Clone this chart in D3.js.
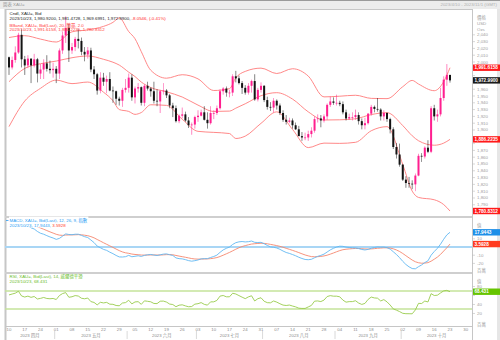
<!DOCTYPE html>
<html><head><meta charset="utf-8">
<script src="https://cdn.jsdelivr.net/npm/d3@7"></script>
<style>
html,body{margin:0;padding:0;background:#fff;}
svg{display:block;font-family:"Liberation Sans","Noto Sans CJK TC",Arial,sans-serif;}
</style></head><body>
<svg id="c" width="500" height="340"></svg>
<script>
// ---------- DATA (daily XAU= candles, 2023/04/10 .. 2023/10/23) ----------
const opens = [2007,1992,2003,2014,2040, 2004,1995,2005,1995,2004, 1983,1989,1998,1990,1988, 1990,1983,2017,2039,2050, 2017,2022,2034,2031,2015, 2011,2017,1989,1982,1958, 1977,1971,1975,1958,1957, 1946,1943,1959,1962,1977, 1948,1961,1963,1940,1965, 1961,1957,1943,1942,1957, 1958,1951,1936,1932,1913, 1921,1923,1914,1907,1908, 1919,1921,1926,1915,1910, 1925,1925,1932,1957,1961, 1955,1955,1979,1976,1969, 1962,1955,1965,1972,1945, 1959,1965,1944,1934,1933, 1943,1936,1925,1915,1912, 1914,1907,1901,1891,1889, 1889,1894,1899,1916,1917, 1914,1920,1937,1942,1940, 1940,1938,1926,1917,1919, 1919,1922,1913,1907,1910, 1924,1934,1931,1930,1920, 1925,1916,1901,1875,1864, 1849,1827,1822,1821,1820, 1833,1862,1861,1874,1868, 1932,1920,1923,1947,1974, 1980.92];
const highs = [2008,2008,2023,2043,2048, 2009,2010,2005,2012,2006, 1997,2004,2010,2002,1999, 1994,2020,2045,2067,2056, 2028,2037,2048,2036,2022, 2022,2021,1994,1984,1985, 1984,1980,1985,1964,1958, 1949,1962,1975,1983,1982, 1964,1969,1964,1967,1971, 1963,1971,1960,1959,1969, 1960,1953,1940,1936,1923, 1933,1927,1919,1911,1921, 1929,1930,1935,1926,1935, 1929,1936,1960,1963,1964, 1959,1982,1987,1980,1972, 1966,1969,1974,1982,1962, 1970,1966,1949,1941,1947, 1945,1939,1929,1922,1918, 1917,1911,1906,1897,1896, 1899,1904,1920,1923,1922, 1923,1939,1949,1948,1952, 1943,1942,1930,1924,1926, 1930,1926,1917,1918,1925, 1937,1936,1947,1932,1929, 1926,1918,1904,1881,1880, 1850,1832,1831,1826,1836, 1865,1866,1876,1885,1935, 1937,1930,1962,1979,1997, 1981.4728];
const lows = [1981,1989,1999,2012,1992, 1981,1991,1969,1992,1970, 1975,1975,1986,1983,1977, 1969,1975,2012,2028,2000, 2012,2016,2020,2010,2001, 2005,1985,1975,1952,1954, 1965,1954,1957,1940,1937, 1936,1934,1955,1955,1943, 1939,1955,1936,1935,1958, 1949,1939,1935,1925,1952, 1947,1932,1919,1911,1910, 1917,1912,1903,1893,1902, 1912,1920,1914,1902,1908, 1916,1922,1930,1952,1949, 1948,1950,1970,1967,1953, 1952,1952,1955,1943,1942, 1955,1941,1930,1928,1926, 1930,1922,1912,1908,1910, 1902,1900,1891,1884,1885, 1884,1889,1896,1911,1904, 1911,1915,1934,1937,1936, 1935,1923,1914,1915,1914, 1915,1908,1901,1901,1908, 1921,1926,1927,1914,1914, 1912,1895,1872,1858,1846, 1825,1815,1815,1813,1810, 1832,1853,1858,1866,1866, 1914,1912,1920,1943,1965, 1969.6991];
const closes = [1992,2003,2014,2040,2004, 1995,2005,1995,2004,1983, 1989,1998,1990,1988,1990, 1983,2017,2039,2050,2017, 2022,2034,2031,2015,2011, 2017,1989,1982,1958,1977, 1971,1975,1958,1957,1946, 1943,1959,1962,1977,1948, 1961,1963,1940,1965,1961, 1957,1943,1942,1957,1958, 1951,1936,1932,1913,1921, 1923,1914,1907,1908,1919, 1921,1926,1915,1910,1925, 1925,1932,1957,1961,1955, 1955,1979,1976,1969,1962, 1955,1965,1972,1945,1959, 1965,1944,1934,1933,1943, 1936,1925,1915,1912,1914, 1907,1901,1891,1889,1889, 1894,1899,1916,1917,1914, 1920,1937,1942,1940,1940, 1938,1926,1917,1919,1919, 1922,1913,1907,1910,1924, 1934,1931,1930,1920,1925, 1916,1901,1875,1864,1849, 1827,1822,1821,1820,1833, 1862,1861,1874,1868,1932, 1920,1923,1947,1974,1981, 1972.99];

// Bollinger bands (20, 2.0) read at sample bars
const bbIdx   = [0,5,10,15,20,25,30,33,35,38,40,42,45,50,55,60,65,70,72,75,80,85,90,95,100,105,110,115,120,125,128,130,135,138,140];
const bbUpper = [2036,2038.7,2033.7,2029.4,2044.4,2047.3,2052.4,2058.3,2064.9,2044.8,2034.2,2015.2,1987.9,1976.2,1981.3,1975.2,1958.1,1960.8,1976.7,1986.2,1991.0,1983.1,1990.1,1979.3,1948.7,1949.7,1951.1,1946.5,1946.1,1963.7,1972.9,1967.6,1957.8,1971.1,1991.6158];
const bbMid   = [1971,1990.6,1997.5,2001.4,2006.3,2008.9,2004.0,1999.7,1995.5,1985.1,1978.6,1970.5,1962.5,1956.2,1948.5,1936.6,1927.3,1927.8,1932.1,1938.6,1950.4,1954.9,1945.5,1926.7,1914.7,1915.0,1916.5,1922.7,1925.5,1906.5,1891.5,1884.2,1877.6,1880.7,1886.2235];
const bbLower = [1905,1942.6,1961.3,1973.4,1968.2,1970.5,1955.6,1943.1,1930.1,1927.3,1923.0,1925.7,1937.1,1936.2,1915.7,1898.0,1896.5,1894.8,1887.5,1891.0,1909.8,1926.7,1900.9,1874.1,1880.7,1880.3,1881.9,1898.9,1904.9,1849.3,1810.1,1800.8,1797.4,1790.3,1780.8312];

// MACD (12, 26, 9)
const macdLine = [31.0,30.4,30.2,31.9,30.0, 27.4,25.8,23.4,22.0,19.0, 16.8,15.6,13.9,12.3,11.0, 9.3,10.5,13.2,16.0,15.3, 15.0,15.6,15.6,14.2,12.6, 11.6,8.5,5.4,1.1,-0.9, -2.9,-4.1,-6.3,-8.1,-10.3, -12.1,-12.2,-11.8,-10.2,-11.9, -11.3,-10.7,-11.5,-10.2,-9.5, -9.1,-9.8,-10.4,-9.5,-8.7, -8.4,-9.4,-10.3,-13.3,-14.2, -14.5,-15.4,-16.6,-17.3,-16.7, -15.8,-14.5,-14.2,-14.2,-12.8, -11.6,-9.9,-6.5,-3.5,-1.6, 0.0,3.1,5.3,6.3,6.7, 6.2,6.5,7.3,5.7,5.5, 5.7,4.0,1.9,0.2,-0.3, -1.2,-2.8,-4.9,-6.7,-7.8, -9.2,-10.7,-12.5,-14.0,-15.2, -15.5,-15.0,-13.1,-11.4,-10.2, -8.7,-6.1,-3.5,-1.6,0.0, 1.0,0.8,-0.1,-0.6,-1.0, -1.1,-1.9,-3.0,-3.6,-2.9, -1.5,-0.6,0.1,-0.2,-0.1, -0.8,-2.5,-5.8,-9.2,-13.0, -17.5,-21.3,-24.2,-26.3,-26.6, -24.0,-21.9,-19.0,-16.9,-10.0, -5.5,-1.6,3.5,9.5,14.8, 17.9443];
const macdSignal = [28.0,28.4,28.8,29.4,29.5, 29.1,28.4,27.4,26.3,24.8, 23.2,21.7,20.1,18.5,17.0, 15.5,14.5,14.2,14.6,14.7, 14.8,14.9,15.1,14.9,14.4, 13.8,12.7,11.2,9.2,7.2, 5.2,3.3,1.4,-0.5,-2.5, -4.4,-6.0,-7.1,-7.7,-8.6, -9.1,-9.4,-9.8,-9.9,-9.8, -9.7,-9.7,-9.8,-9.8,-9.6, -9.3,-9.3,-9.5,-10.3,-11.1, -11.8,-12.5,-13.3,-14.1,-14.6, -14.8,-14.7,-14.6,-14.5,-14.2, -13.7,-12.9,-11.6,-10.0,-8.3, -6.6,-4.7,-2.7,-0.9,0.6, 1.7,2.7,3.6,4.0,4.3, 4.6,4.4,3.9,3.2,2.5, 1.7,0.8,-0.3,-1.6,-2.8, -4.1,-5.4,-6.8,-8.3,-9.7, -10.8,-11.7,-11.9,-11.8,-11.5, -10.9,-10.0,-8.7,-7.3,-5.8, -4.4,-3.3,-2.7,-2.3,-2.0, -1.8,-1.8,-2.1,-2.4,-2.5, -2.3,-2.0,-1.5,-1.3,-1.0, -1.0,-1.3,-2.2,-3.6,-5.5, -7.9,-10.6,-13.3,-15.9,-18.0, -19.2,-19.8,-19.6,-19.1,-17.3, -14.9,-12.3,-9.0,-4.9,-0.9, 3.5928];

// RSI (14, Wilder)
const rsiValues = [61.3,63.3,65.2,69.4,58.9, 56.6,58.6,55.9,57.8,52.2, 53.6,55.6,53.4,52.8,53.4, 51.1,59.9,64.3,66.4,56.1, 57.2,59.8,58.8,53.9,52.7, 54.4,46.4,44.6,39.1,44.9, 43.5,44.7,40.7,40.4,37.8, 37.2,43.2,44.2,49.4,41.4, 45.7,46.3,40.4,48.1,47.1, 46.0,42.3,42.0,47.3,47.6, 45.4,41.0,39.9,35.1,38.5, 39.3,36.9,35.0,35.5,40.8, 41.8,44.2,40.3,38.6,45.9, 45.9,49.1,58.7,60.0,57.1, 57.1,65.0,63.4,59.8,56.3, 53.0,56.9,59.4,47.8,52.9, 55.0,47.2,44.1,43.7,47.8, 45.3,41.7,38.7,37.8,38.8, 36.6,34.7,31.8,31.3,31.3, 34.6,37.9,47.4,47.9,46.5, 49.8,57.7,59.7,58.5,58.5, 57.1,49.8,45.2,46.4,46.4, 48.4,43.2,40.2,42.4,51.3, 56.5,54.6,54.0,47.9,50.9, 45.8,38.8,30.2,27.4,24.2, 20.4,19.6,19.5,19.3,27.9, 42.5,42.2,47.7,45.6,64.1, 60.0,60.7,65.7,70.3,71.4, 68.431];

// axis categories
const weekLabels = ["10","17","24","01","08","15","22","29","05","12","19","26","03","10","17","24","31","07","14","21","28","04","11","18","25","02","09","16","23","30"];
const monthLabels = ["2023 四月","2023 五月","2023 六月","2023 七月","2023 八月","2023 九月","2023 十月"];
const monthBreaks = [15,38,60,81,104,125];   // first trading bar of each new month
const priceTicks = d3.range(2040, 1785, -10);
const macdTicks = [10,-10,-20];
const rsiTicks = [80,60,40,20];
const rsiLevels = [70,30];

// ---------- LAYOUT ----------
const svg = d3.select("#c");
const L = 5, R = 472, W = 500;
const n = closes.length;
const x = d3.scaleLinear().domain([0, 145]).range([9, 9 + 145*3.15]);
const yP = d3.scaleLinear().domain([1773.5, 2076.5]).range([216, 10]);
const yM = d3.scaleLinear().domain([-30.5, 35.4]).range([272, 218]);
const yR = d3.scaleLinear().domain([-7.8, 107.8]).range([326, 274]);

const upC = "#ff1f8f", dnC = "#141414";
const bbC = "#ff7a7a";
const fs = 4.4;

// header
svg.append("rect").attr("x",0).attr("y",0).attr("width",W).attr("height",9).attr("fill","#ececec");
svg.append("line").attr("x1",0).attr("x2",W).attr("y1",0.5).attr("y2",0.5).attr("stroke","#9a9a9a");
svg.append("text").attr("x",3).attr("y",6.2).attr("font-size",fs).attr("fill","#999").text("圖表 XAU=");
svg.append("text").attr("x",W-3).attr("y",6.2).attr("font-size",fs).attr("fill","#b0b0b0").attr("text-anchor","end").text("2023/4/10 - 2023/11/1 (GMT)");

// frames
const frame = svg.append("g").attr("stroke","#c6c6c6").attr("fill","none");
frame.append("line").attr("x1",L).attr("x2",R).attr("y1",9.5).attr("y2",9.5);
frame.append("line").attr("x1",L+0.5).attr("x2",L+0.5).attr("y1",9).attr("y2",340).attr("stroke-width",2);
frame.append("line").attr("x1",R+0.5).attr("x2",R+0.5).attr("y1",9).attr("y2",340);
[217, 273].forEach(yy => frame.append("line").attr("x1",L).attr("x2",R).attr("y1",yy).attr("y2",yy).attr("stroke-width",2).attr("stroke","#cfcfcf"));
frame.append("line").attr("x1",L).attr("x2",R).attr("y1",326.5).attr("y2",326.5);
svg.append("rect").attr("x",497).attr("y",9).attr("width",3).attr("height",331).attr("fill","#e6e6e6");

// ---------- MAIN PANEL ----------
const gP = svg.append("g");
const bbLine = arr => d3.line().x((d,k)=>x(bbIdx[k])).y(d=>yP(d)).curve(d3.curveMonotoneX)(arr);
[bbUpper, bbMid, bbLower].forEach(arr => gP.append("path").attr("d", bbLine(arr)).attr("fill","none").attr("stroke",bbC).attr("stroke-width",0.9));

const idx = d3.range(n);
gP.selectAll(".wick").data(idx).join("line")
  .attr("x1", i=>x(i)).attr("x2", i=>x(i))
  .attr("y1", i=>yP(highs[i])).attr("y2", i=>yP(lows[i]))
  .attr("stroke", i=> closes[i] >= opens[i] ? upC : dnC).attr("stroke-width",0.7).attr("opacity",0.75);
gP.selectAll(".body").data(idx).join("rect")
  .attr("x", i=>x(i)-1).attr("width", 2)
  .attr("y", i=>yP(Math.max(opens[i], closes[i])))
  .attr("height", i=>Math.max(0.7, Math.abs(yP(opens[i]) - yP(closes[i]))))
  .attr("fill", i=> closes[i] >= opens[i] ? upC : dnC);

// titles
function titleLine(g, yy, parts){
  const t = g.append("text").attr("x",9.5).attr("y",yy).attr("font-size",fs);
  parts.forEach(p => t.append("tspan").attr("fill",p[1]).text(p[0]));
  return t;
}
function titleBg(g, t){
  const b = t.node().getBBox();
  g.insert("rect", () => t.node()).attr("x",b.x-0.5).attr("y",b.y).attr("width",b.width+1).attr("height",b.height).attr("fill","#fff");
}
const gT = svg.append("g");
titleLine(gT, 15, [["Cndl, XAU=, Bid","#222"]]);
titleLine(gT, 20, [["2023/10/23, 1,980.9200, 1,981.4728, 1,969.6991, 1,972.9900, ","#222"],["-8.0546, (-0.41%)","#ff2a2a"]]);
titleLine(gT, 26.5, [["BBand, XAU=, Bid(Last), 20, 簡單, 2.0","#ff3b3b"]]);
titleLine(gT, 31, [["2023/10/23, 1,991.6158, 1,886.2235, 1,780.8312","#ff3b3b"]]);

// ---------- MACD PANEL ----------
const gM = svg.append("g");
gM.append("line").attr("x1",L).attr("x2",R).attr("y1",yM(0)).attr("y2",yM(0)).attr("stroke","#a9d6f5").attr("stroke-width",1.8);
const mLine = d3.line().x((d,i)=>x(i)).y(d=>yM(d));
gM.append("path").attr("d", mLine(macdSignal)).attr("fill","none").attr("stroke","#f5876e").attr("stroke-width",0.9);
gM.append("path").attr("d", mLine(macdLine)).attr("fill","none").attr("stroke","#62b8f2").attr("stroke-width",0.9);
const m1 = titleLine(gM, 221.5, [["MACD, XAU=, Bid(Last), 12, 26, 9, 指數","#2a9df4"]]);
const m2 = titleLine(gM, 226.5, [["2023/10/23, 17.9443, ","#2a9df4"],["3.5928","#ff3b1f"]]);
titleBg(gM, m1); titleBg(gM, m2);
gM.append("line").attr("x1",6).attr("x2",8.5).attr("y1",220.5).attr("y2",220.5).attr("stroke","#2a9df4").attr("stroke-width",0.8);

// ---------- RSI PANEL ----------
const gR = svg.append("g");
rsiLevels.forEach(v => gR.append("line").attr("x1",L).attr("x2",R).attr("y1",yR(v)).attr("y2",yR(v)).attr("stroke","#c4e39a").attr("stroke-width",1.4));
gR.append("path").attr("d", d3.line().x((d,i)=>x(i)).y(d=>yR(d))(rsiValues)).attr("fill","none").attr("stroke","#98cc4c").attr("stroke-width",0.9);
titleLine(gR, 278, [["RSI, XAU=, Bid(Last), 14, 威爾德平滑","#6cbd2a"]]);
titleLine(gR, 282.5, [["2023/10/23, 68.431","#6cbd2a"]]);

// ---------- RIGHT AXES ----------
const boxes = [
  {y: yP(bbUpper[bbUpper.length-1]), t: "1,991.6158", c: "#ff1a1a"},
  {y: yP(closes[n-1]), t: "1,972.9900", c: "#1a1a1a"},
  {y: yP(bbMid[bbMid.length-1]), t: "1,886.2235", c: "#ff1a1a"},
  {y: yP(bbLower[bbLower.length-1]), t: "1,780.8312", c: "#ff1a1a"},
  {y: yM(macdLine[n-1]), t: "17.9443", c: "#1e8fe8"},
  {y: yM(macdSignal[n-1]), t: "3.5928", c: "#ff3b1f"},
  {y: yR(rsiValues[n-1]), t: "68.431", c: "#66c400"}
];
const gA = svg.append("g").attr("font-size",fs).attr("fill","#a0a0a0");
function unitLabel(yy, txt){ gA.append("text").attr("x",477).attr("y",yy+1.5).text(txt); }
function tick(yy, txt){
  gA.append("line").attr("x1",R).attr("x2",R+3).attr("y1",yy).attr("y2",yy).attr("stroke","#c0c0c0").attr("stroke-width",0.6);
  if (boxes.some(b => Math.abs(b.y - yy) < 5.2)) return;   // label hidden behind value box
  gA.append("text").attr("x",477).attr("y",yy+1.5).text(txt);
}
unitLabel(17,"價格"); unitLabel(23.5,"USD"); unitLabel(29.5,"Ozs");
priceTicks.forEach(v => tick(yP(v), d3.format(",")(v)));
unitLabel(225,"值"); macdTicks.forEach(v => tick(yM(v), String(v))); unitLabel(270,"百萬");
unitLabel(281,"值"); rsiTicks.forEach(v => tick(yR(v), String(v))); unitLabel(324,"百萬");

boxes.forEach(b => {
  svg.append("rect").attr("x",R+1).attr("y",b.y-3.2).attr("width",W-R-1).attr("height",6.4).attr("fill",b.c);
  svg.append("text").attr("x",R+2.5).attr("y",b.y+1.6).attr("font-size",4.7).attr("font-weight","bold").attr("fill","#fff").text(b.t);
});

// ---------- X AXIS ----------
const gX = svg.append("g").attr("font-size",4.3).attr("fill","#8a8a8a").attr("text-anchor","middle");
weekLabels.forEach((lab,k) => gX.append("text").attr("x", x(k*5)).attr("y",330.5).text(lab));
const edges = [L].concat(monthBreaks.map(b => x(b) - 1.575)).concat([R]);
monthBreaks.forEach(b => gX.append("line").attr("x1",x(b)-1.575).attr("x2",x(b)-1.575).attr("y1",331).attr("y2",339).attr("stroke","#c8c8c8").attr("stroke-width",0.7));
monthLabels.forEach((lab,k) => gX.append("text").attr("x",(edges[k]+edges[k+1])/2).attr("y",336.5).text(lab));
</script>
</body></html>
